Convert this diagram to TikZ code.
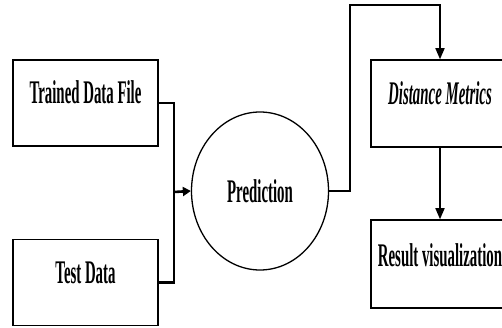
\documentclass[tikz,border=0pt]{standalone}
\usepackage{fontspec}
\setmainfont[FakeStretch=0.45]{Liberation Serif}
\usepackage{tikz}
\usetikzlibrary{shapes.geometric}
\usetikzlibrary{positioning, arrows.meta, shapes}
\newcommand{\onbase}[2]{\raisebox{-#1}[0pt][0pt]{#2}}
\begin{document}
\begin{tikzpicture}[x=1pt, y=-1pt, auto]
    % Define styles
    \tikzstyle{block} = [rectangle, draw, line width=1.5pt, minimum width=145pt, minimum height=86pt, font=\fontsize{33}{35}\selectfont\bfseries]
    \tikzstyle{oval} = [ellipse, draw, line width=1.3pt, minimum width=137pt, minimum height=158pt, font=\fontsize{33}{35}\selectfont\bfseries]
    \tikzstyle{link} = [line width=2.6pt]
    \tikzstyle{arrow} = [line width=1.6pt, -{Triangle[length=11pt, width=9pt]}]
    \useasboundingbox (0,0) rectangle (502,328);

    % Inputs
    \node [block] (trained) at (85.5,103) {\onbase{1pt}{Trained Data File}};
    \node [block, below of=trained, node distance=179.5pt] (test) {\onbase{0.5pt}{Test Data}};
    \node [oval] (pred) at (260,191) {\onbase{12pt}{Prediction}};

    % Outputs
    \node [block, minimum width=138pt, minimum height=87pt] (metrics) at (440,103.5) {\onbase{1.5pt}{\itshape Distance Metrics}};
    \node [block, minimum width=138pt, minimum height=88pt, below of=metrics, node distance=160.5pt] (result) {\onbase{2pt}{Result visualization}};

    % Arrows
    \coordinate (join) at (174,192);
    \coordinate (up) at (350,5);
    \draw [link] (trained.east) -| (join);
    \draw [link] (test.east) -| (join);
    \draw [link, -{Triangle[length=8pt, width=9pt]}] (join) -- (pred.west);
    \draw [link] (pred.east) -| (up);
    \draw [arrow, line cap=rect] (up) -| (metrics.north);
    \draw [arrow] (metrics) -- (result);
\end{tikzpicture}
\end{document}
